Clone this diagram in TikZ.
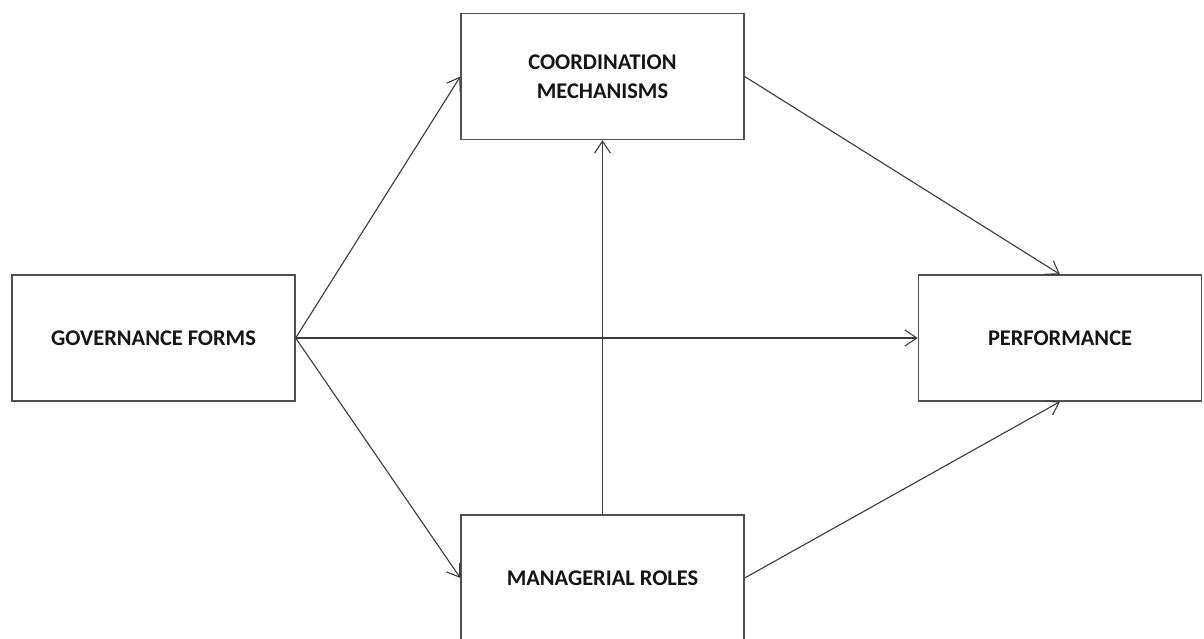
\documentclass[tikz,border=0pt]{standalone}
\usepackage{fontspec}
\setmainfont{Carlito}
\usetikzlibrary{arrows.meta}
\definecolor{boxline}{HTML}{505050}
\definecolor{arrowline}{HTML}{3A3A3A}
\definecolor{labeltext}{HTML}{151515}
\tikzset{
  block/.style={draw=boxline, line width=1.3pt, fill=white, rectangle,
    minimum width=283pt, minimum height=126pt, inner sep=0pt,
    align=center, text=labeltext,
    font=\fontsize{22.4}{29}\selectfont\bfseries},
  link/.style={draw=arrowline, line width=1.1pt,
    -{Straight Barb[length=12pt,width=16pt,line width=1.1pt]}},
}
\begin{document}
\begin{tikzpicture}[x=1pt,y=-1pt]
  \useasboundingbox (0,0) rectangle (1204,639);
  \clip (0,0) rectangle (1204,639);
  \fill[white] (0,0) rectangle (1204,639);

  \node[block] (gov)  at (153.5,338)  {GOVERNANCE FORMS};
  \node[block] (coord) at (602.5,76.5) {COORDINATION\\MECHANISMS};
  \node[block] (perf) at (1060,338)   {PERFORMANCE};
  \node[block] (mgr)  at (602.5,578)  {MANAGERIAL ROLES};

  \draw[link] (gov.east) -- (coord.west);
  \draw[link] (gov.east) -- (perf.west);
  \draw[link] (gov.east) -- (mgr.west);
  \draw[link] (mgr.north) -- (coord.south);
  \draw[link] (coord.east) -- (perf.north);
  \draw[link] (mgr.east) -- (perf.south);
\end{tikzpicture}
\end{document}
